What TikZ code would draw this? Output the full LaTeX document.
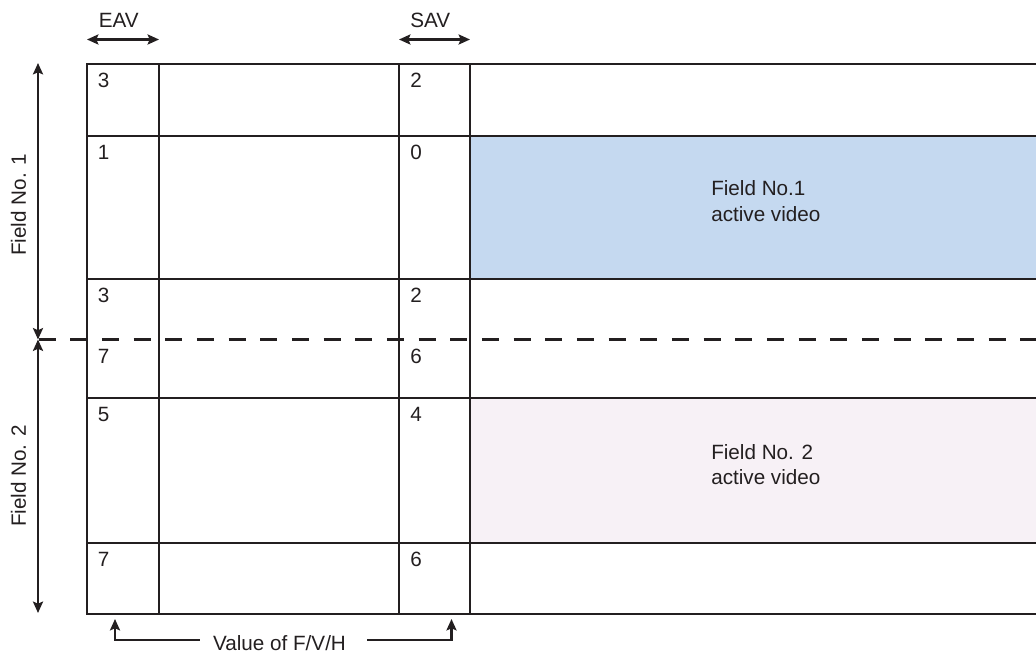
\documentclass[tikz,border=0pt]{standalone}
\usepackage{fontspec}
\setmainfont{Liberation Sans}
\usetikzlibrary{arrows.meta}
\definecolor{ink}{HTML}{231F20}
\definecolor{fieldblue}{HTML}{C5D9F0}
\definecolor{fieldpink}{HTML}{F7F1F6}
\tikzset{
  grid/.style={draw=ink, line width=2pt},
  num/.style={anchor=north west, inner sep=0pt, font=\fontsize{15.5}{19.3}\selectfont, text=ink},
  lbl/.style={inner sep=0pt, font=\fontsize{15.5}{19.3}\selectfont, text=ink},
  dim/.style={draw=ink, line width=2pt, {Stealth[length=8.5pt,width=7.5pt,inset=1.5pt]}-{Stealth[length=8.5pt,width=7.5pt,inset=1.5pt]}},
  up/.style={draw=ink, line width=2pt, -{Stealth[length=8.5pt,width=7.5pt,inset=1.5pt]}},
}
\begin{document}
\begin{tikzpicture}[x=0.75pt,y=-0.75pt]
\useasboundingbox (0,0) rectangle (1036,655);
% fills
\fill[fieldblue] (470,136) rectangle (1036,279);
\fill[fieldpink] (470,398) rectangle (1036,543);
% grid lines
\draw[grid] (1040,64) -- (87,64) -- (87,614) -- (1040,614);
\foreach \yy in {136,279,398,543} \draw[grid] (87,\yy) -- (1040,\yy);
\foreach \xx in {159,399,470} \draw[grid] (\xx,64) -- (\xx,614);
\draw[ink, line width=2pt, dash pattern=on 12.75pt off 11pt] (38.5,339.5) -- (1040,339.5);
% numbers
\foreach \yy/\a/\b in {64/3/2,136/1/0,279/3/2,340/7/6,398/5/4,543/7/6}{
  \node[num] (n\a\yy) at (97.5,\yy+9) {\a};
  \node[num] (m\b\yy) at (410,\yy+9) {\b};
}
% region labels
\node[lbl, align=left, anchor=base west] (f1) at (711,221.5) {Field No.1\\active video};
\node[lbl, align=left, anchor=base west] (f2) at (711,485) {Field No. 2\\active video};
% top dimension arrows
\coordinate (e1) at (87,39.5); \coordinate (e2) at (159,39.5);
\coordinate (s1) at (399,39.5); \coordinate (s2) at (470,39.5);
\draw[dim] (e1) -- (e2);
\draw[dim] (s1) -- (s2);
\node[lbl, anchor=base west] (eav) at (98.5,28) {EAV};
\node[lbl, anchor=base west] (sav) at (410,28) {SAV};
% left dimension arrows
\coordinate (l1) at (38,63); \coordinate (l2) at (38,339.5); \coordinate (l3) at (38,613);
\draw[dim] (l1) -- (l2);
\draw[dim] (l2) -- (l3);
\node[lbl, rotate=90, anchor=base] (fn1) at (26,205) {Field No. 1};
\node[lbl, rotate=90, anchor=base] (fn2) at (26,476) {Field No. 2};
% bottom bracket
\node[lbl, anchor=base] (val) at (279.5,650.5) {Value of F/V/H};
\coordinate (a1) at (199.5,640); \coordinate (a2) at (367,640);
\coordinate (b1) at (115,640); \coordinate (b2) at (451.5,640);
\coordinate (t1) at (115,619); \coordinate (t2) at (451.5,619);
\draw[up] (a1) -- (b1) -- (t1);
\draw[up] (a2) -- (b2) -- (t2);
\end{tikzpicture}
\end{document}
